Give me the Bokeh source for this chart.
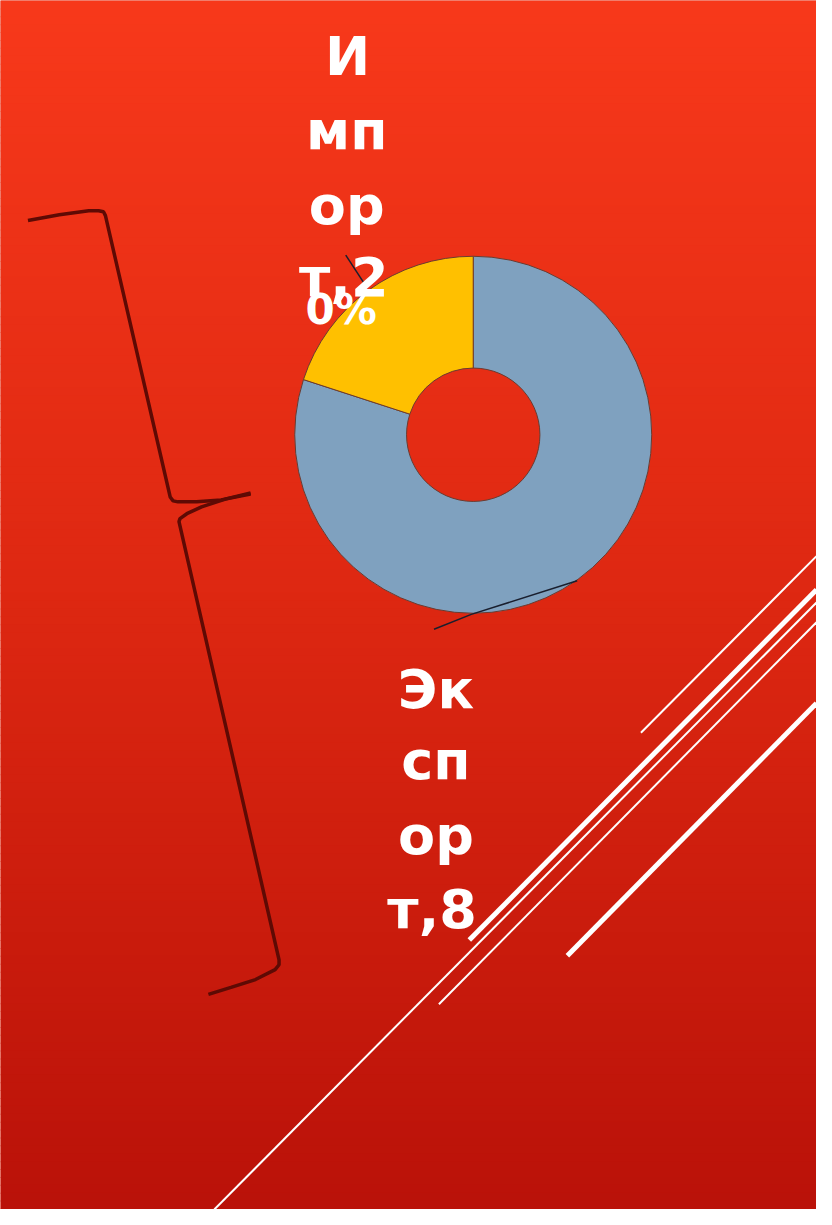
from bokeh.plotting import figure
from bokeh.models import Range1d, ColumnDataSource
from bokeh.core.properties import value
from bokeh.embed import file_html
from bokeh.resources import INLINE
import numpy as np

# ---- data ----
categories = ["Экспорт", "Импорт"]
values = [80, 20]
colors = ["#7FA1BF", "#FFC000"]
# wrapped label lines as shown on the slide
export_lines = ["Эк", "сп", "ор", "т,8"]
import_lines = ["И", "мп", "ор", "т,2", "0%"]

H = 1225  # reference pixel height (y is flipped for data)
W = 832

p = figure(width=816, height=1209, output_backend="svg", toolbar_location=None,
           x_range=Range1d(0, W), y_range=Range1d(0, H), min_border=0)
p.axis.visible = False
p.grid.visible = False
p.outline_line_color = None
p.background_fill_color = "#E02A14"
p.border_fill_color = "#E02A14"

# ---- background gradient (style) ----
stops_y = [0, 600, 1225]
stops_c = [(248, 57, 27), (222, 40, 18), (186, 18, 9)]
band = 8
ys = np.arange(0, H, band)
cols = []
for yy in ys + band / 2:
    r = np.interp(yy, stops_y, [c[0] for c in stops_c])
    g = np.interp(yy, stops_y, [c[1] for c in stops_c])
    b = np.interp(yy, stops_y, [c[2] for c in stops_c])
    cols.append("#%02x%02x%02x" % (int(r), int(g), int(b)))
p.quad(left=0, right=W, top=H - ys, bottom=H - ys - band - 1, fill_color=cols, line_color=None)

# ---- decorative braces ----
brace_col = "#5E0A04"
up_x = [28, 60, 90, 100, 105, 107, 173, 176, 181, 200, 225, 255]
up_y = [223, 217, 213, 213, 214, 218, 503, 507, 508, 508, 506, 500]
p.line(up_x, [H - v for v in up_y], line_color=brace_col, line_width=3.5)
lo_x = [255, 230, 205, 190, 183, 182, 284, 284, 280, 260, 235, 212]
lo_y = [499, 505, 513, 520, 525, 528, 972, 977, 982, 992, 1000, 1007]
p.line(lo_x, [H - v for v in lo_y], line_color=brace_col, line_width=3.5)

# ---- decorative white diagonals ----
wl = [((832, 563), (653, 742), 2),
      ((832, 597), (478, 952), 5),
      ((832, 610), (218, 1225), 2),
      ((832, 630), (447, 1017), 2),
      ((832, 712), (578, 968), 5)]
for (x0, y0), (x1, y1), w in wl:
    p.line([x0, x1], [H - y0, H - y1], line_color="white", line_width=w)

# ---- donut ----
cx, cy = 482, H - 440
total = sum(values)
cum = np.cumsum([0] + values) / total
starts = [np.pi / 2 - 2 * np.pi * cum[i] for i in range(len(values))]
ends = [np.pi / 2 - 2 * np.pi * cum[i + 1] for i in range(len(values))]
src = ColumnDataSource(dict(cat=categories, val=values, start=starts, end=ends, color=colors))
p.annular_wedge(x=cx, y=cy, inner_radius=68, outer_radius=182, start_angle="start", end_angle="end",
                direction="clock", fill_color="color", line_color="#6B3B30", line_width=1, source=src)

# ---- leader lines ----
p.line([352, 373], [H - 258, H - 290], line_color="#1A1F2E", line_width=1.5)
p.line([442, 480, 588], [H - 637, H - 622, H - 588], line_color="#1A1F2E", line_width=1.5)

# ---- labels ----
font = value("DejaVu Sans")
fs = "54px"
imp_x = [354, 353, 353, 350]
imp_base = [57, 132, 208, 281]
p.text(x=imp_x, y=[H - v for v in imp_base], text=import_lines[:4], text_font=font, text_font_size=fs,
       text_font_style="bold", text_color="white", text_align="center", text_baseline="alphabetic")
p.text(x=[311], y=[H - 313], text=import_lines[4:], text_font=font, text_font_size="42px",
       text_font_style="bold", text_color="white", text_align="left", text_baseline="alphabetic")
exp_x = [444, 444, 444, 440]
exp_base = [698, 770, 846, 921]
p.text(x=exp_x, y=[H - v for v in exp_base], text=export_lines, text_font=font, text_font_size=fs,
       text_font_style="bold", text_color="white", text_align="center", text_baseline="alphabetic")

open("out.html", "w").write(file_html(p, INLINE))
